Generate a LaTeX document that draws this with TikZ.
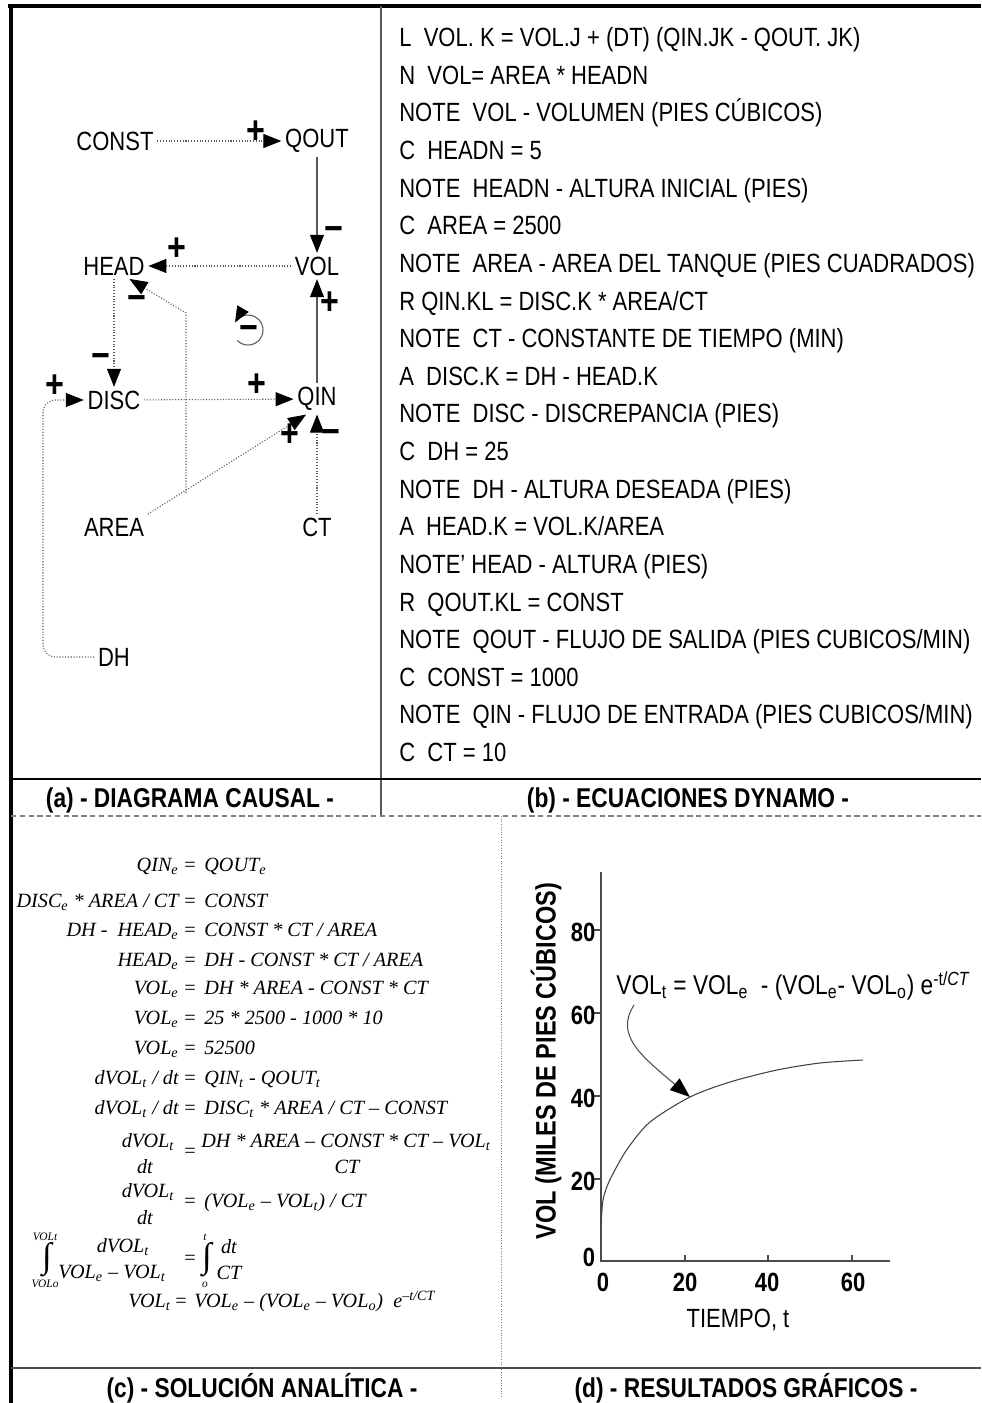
\documentclass[tikz,border=0pt]{standalone}
\usepackage{fontspec}
\setmainfont{Liberation Sans}[FakeStretch=0.835]
\newfontfamily\eqfont{Liberation Serif}
\usetikzlibrary{arrows.meta}

\begin{document}
\begin{tikzpicture}[x=0.02cm, y=-0.02cm,
  var/.style={font=\fontsize{15}{18}\selectfont, inner sep=2pt},
  plussgn/.style={font=\fontsize{22}{22}\selectfont\bfseries, inner sep=0pt},
  minussgn/.style={font=\fontsize{22}{22}\selectfont\bfseries, inner sep=0pt},
  link/.style={densely dotted, gray!70!black, line width=0.6pt, -{Triangle[length=3.6mm,width=2.8mm,color=black]}},
  flow/.style={gray!70!black, line width=0.7pt, -{Triangle[length=3.6mm,width=2.8mm,color=black]}},
  dyn/.style={font=\fontsize{15}{18}\selectfont, anchor=mid west, inner sep=0pt},
  ttl/.style={font=\fontsize{15.5}{18}\selectfont\bfseries, inner sep=0pt},
  eqn/.style={font=\eqfont\itshape\fontsize{11.5}{13}\selectfont, inner sep=0pt},
  lim/.style={font=\eqfont\itshape\fontsize{6.5}{7}\selectfont, inner sep=0pt},
  intg/.style={font=\eqfont\fontsize{20}{20}\selectfont, inner sep=0pt},
  ticklbl/.style={font=\fontsize{15}{18}\selectfont\bfseries, inner sep=0pt},
  axlbl/.style={font=\fontsize{16}{18}\selectfont\bfseries, inner sep=0pt}]
\useasboundingbox (0,0) rectangle (981,1403);

% frame and panels
\draw[line width=2.5pt] (8,6) -- (981,6);
\draw[line width=2.5pt] (11,6) -- (11,1403);
\draw[gray!70!black, line width=0.6pt] (381,6) -- (381,816);
\draw[line width=0.7pt] (11,779) -- (981,779);
\draw[gray, line width=0.6pt, densely dashed] (11,816) -- (981,816);
\draw[gray, line width=0.5pt, densely dotted] (501,816) -- (501,1398);
\draw[gray!60!black, line width=0.7pt] (11,1368) -- (981,1368);

\node[ttl] (ttla) at (190,800) {(a) - DIAGRAMA CAUSAL -};
\node[ttl] (ttlb) at (688,800) {(b) - ECUACIONES DYNAMO -};
\node[ttl] (ttlc) at (262,1388) {(c) - SOLUCIÓN ANALÍTICA -};
\node[ttl] (ttld) at (746,1388) {(d) - RESULTADOS GRÁFICOS -};

% (a) causal diagram
\node[var] (const) at (115,141) {CONST};
\node[var] (qout) at (317,141) {QOUT};
\node[var] (head) at (114,266) {HEAD};
\node[var] (vol) at (317,266) {VOL};
\node[var] (disc) at (114,400) {DISC};
\node[var] (qin) at (317,399) {QIN};
\node[var] (area) at (114,527) {AREA};
\node[var] (ct) at (317,527) {CT};
\node[var] (dh) at (114,657) {DH};
\coordinate (ajoin) at (186,493);
\coordinate (abend) at (186,313);
\coordinate (dhlow) at (43,657);
\coordinate (dhup) at (43,400);

\draw[link] (const) -- (qout);
\draw[flow] (qout) -- (vol);
\draw[link] (vol) -- (head);
\draw[flow] (qin) -- (vol);
\draw[link] (head) -- (disc);
\draw[link] (disc) -- (qin);
\draw[link] (area.north east) -- (qin.235);
\draw[link] (ct) -- (qin);
\draw[link] (ajoin) -- (abend) -- (head.-40);
\draw[link, rounded corners=7] (dh.west) -- (dhlow) -- (dhup) -- (disc.west);
\draw[gray!70!black, line width=0.6pt, -{Triangle[length=3.2mm,width=2.6mm,color=black]}]
  (248,330) ++(135:15) arc[start angle=135, end angle=-150, radius=15];

\node[plussgn] (s1) at (256,132) {+};
\node[minussgn] (s2) at (334,234) {−};
\node[plussgn] (s3) at (177,249) {+};
\node[plussgn] (s4) at (330,303) {+};
\node[minussgn] (s5) at (101,361) {−};
\node[minussgn] (s6) at (137,303) {−};
\node[plussgn] (s7) at (257,385) {+};
\node[plussgn] (s8) at (290,435) {+};
\node[minussgn] (s9) at (331,437) {−};
\node[plussgn] (s10) at (55,386) {+};
\node[minussgn] (s11) at (249,333) {−};

% (b) DYNAMO equations
\node[dyn] (b1) at (399,42) {L~ VOL. K = VOL.J + (DT) (QIN.JK - QOUT. JK)};
\node[dyn] (b2) at (399,79.6) {N~ VOL= AREA * HEADN};
\node[dyn] (b3) at (399,117.3) {NOTE~ VOL - VOLUMEN (PIES CÚBICOS)};
\node[dyn] (b4) at (399,154.9) {C~ HEADN = 5};
\node[dyn] (b5) at (399,192.5) {NOTE~ HEADN - ALTURA INICIAL (PIES)};
\node[dyn] (b6) at (399,230.2) {C~ AREA = 2500};
\node[dyn] (b7) at (399,267.8) {NOTE~ AREA - AREA DEL TANQUE (PIES CUADRADOS)};
\node[dyn] (b8) at (399,305.4) {R QIN.KL = DISC.K * AREA/CT};
\node[dyn] (b9) at (399,343.0) {NOTE~ CT - CONSTANTE DE TIEMPO (MIN)};
\node[dyn] (b10) at (399,380.7) {A~ DISC.K = DH - HEAD.K};
\node[dyn] (b11) at (399,418.3) {NOTE~ DISC - DISCREPANCIA (PIES)};
\node[dyn] (b12) at (399,455.9) {C~ DH = 25};
\node[dyn] (b13) at (399,493.6) {NOTE~ DH - ALTURA DESEADA (PIES)};
\node[dyn] (b14) at (399,531.2) {A~ HEAD.K = VOL.K/AREA};
\node[dyn] (b15) at (399,568.8) {NOTE' HEAD - ALTURA (PIES)};
\node[dyn] (b16) at (399,606.5) {R~ QOUT.KL = CONST};
\node[dyn] (b17) at (399,644.1) {NOTE~ QOUT - FLUJO DE SALIDA (PIES CUBICOS/MIN)};
\node[dyn] (b18) at (399,681.7) {C~ CONST = 1000};
\node[dyn] (b19) at (399,719.3) {NOTE~ QIN - FLUJO DE ENTRADA (PIES CUBICOS/MIN)};
\node[dyn] (b20) at (399,757.0) {C~ CT = 10};

% (c) analytic solution
\node[eqn, anchor=mid east] (c1l) at (179,867) {QIN\textsubscript{e}};
\node[eqn] (c1e) at (190,867) {=};
\node[eqn, anchor=mid west] (c1r) at (204,867) {QOUT\textsubscript{e}};
\node[eqn, anchor=mid east] (c2l) at (179,903) {DISC\textsubscript{e} * AREA / CT};
\node[eqn] (c2e) at (190,903) {=};
\node[eqn, anchor=mid west] (c2r) at (204,903) {CONST};
\node[eqn, anchor=mid east] (c3l) at (179,932) {DH -~ HEAD\textsubscript{e}};
\node[eqn] (c3e) at (190,932) {=};
\node[eqn, anchor=mid west] (c3r) at (204,932) {CONST * CT / AREA};
\node[eqn, anchor=mid east] (c4l) at (179,962) {HEAD\textsubscript{e}};
\node[eqn] (c4e) at (190,962) {=};
\node[eqn, anchor=mid west] (c4r) at (204,962) {DH - CONST * CT / AREA};
\node[eqn, anchor=mid east] (c5l) at (179,990) {VOL\textsubscript{e}};
\node[eqn] (c5e) at (190,990) {=};
\node[eqn, anchor=mid west] (c5r) at (204,990) {DH * AREA - CONST * CT};
\node[eqn, anchor=mid east] (c6l) at (179,1020) {VOL\textsubscript{e}};
\node[eqn] (c6e) at (190,1020) {=};
\node[eqn, anchor=mid west] (c6r) at (204,1020) {25 * 2500 - 1000 * 10};
\node[eqn, anchor=mid east] (c7l) at (179,1050) {VOL\textsubscript{e}};
\node[eqn] (c7e) at (190,1050) {=};
\node[eqn, anchor=mid west] (c7r) at (204,1050) {52500};
\node[eqn, anchor=mid east] (c8l) at (179,1080) {dVOL\textsubscript{t} / dt};
\node[eqn] (c8e) at (190,1080) {=};
\node[eqn, anchor=mid west] (c8r) at (204,1080) {QIN\textsubscript{t} - QOUT\textsubscript{t}};
\node[eqn, anchor=mid east] (c9l) at (179,1110) {dVOL\textsubscript{t} / dt};
\node[eqn] (c9e) at (190,1110) {=};
\node[eqn, anchor=mid west] (c9r) at (204,1110) {DISC\textsubscript{t} * AREA / CT – CONST};
\node[eqn] (f1a) at (148,1142) {dVOL\textsubscript{t}};
\node[eqn] (f1b) at (145,1167) {dt};
\node[eqn] (f1e) at (190,1153) {=};
\node[eqn] (f1c) at (346,1142) {DH * AREA – CONST * CT – VOL\textsubscript{t}};
\node[eqn] (f1d) at (347,1167) {CT};
\node[eqn] (f2a) at (148,1192) {dVOL\textsubscript{t}};
\node[eqn] (f2b) at (145,1218) {dt};
\node[eqn] (f2e) at (190,1203) {=};
\node[eqn, anchor=mid west] (f2r) at (204,1203) {(VOL\textsubscript{e} – VOL\textsubscript{t}) / CT};
\node[lim] (i1t) at (45,1237) {VOLt};
\node[intg] (i1) at (47,1260) {∫};
\node[lim] (i1b) at (45,1284) {VOLo};
\node[eqn] (i1n) at (123,1247) {dVOL\textsubscript{t}};
\node[eqn] (i1d) at (112,1273) {VOL\textsubscript{e} – VOL\textsubscript{t}};
\node[eqn] (i1e) at (190,1260) {=};
\node[lim] (i2t) at (205,1237) {t};
\node[intg] (i2) at (207,1260) {∫};
\node[lim] (i2b) at (205,1285) {o};
\node[eqn] (i2n) at (229,1247) {dt};
\node[eqn] (i2d) at (229,1273) {CT};
\node[eqn, anchor=mid east] (c14l) at (171,1303) {VOL\textsubscript{t}};
\node[eqn] (c14e) at (181,1303) {=};
\node[eqn, anchor=mid west] (c14r) at (194,1303) {VOL\textsubscript{e} – (VOL\textsubscript{e} – VOL\textsubscript{o})~ e\textsuperscript{–t/CT}};

% (d) graphical results
\draw[gray!60!black, line width=0.6pt] (601,872) -- (601,1261) -- (890,1261);
\draw[gray!60!black, line width=0.6pt] (601,1179) -- (593,1179);
\draw[gray!60!black, line width=0.6pt] (601,1096) -- (593,1096);
\draw[gray!60!black, line width=0.6pt] (601,1013) -- (593,1013);
\draw[gray!60!black, line width=0.6pt] (601,930) -- (593,930);
\draw[gray!60!black, line width=0.6pt] (685,1261) -- (685,1255);
\draw[gray!60!black, line width=0.6pt] (768,1261) -- (768,1255);
\draw[gray!60!black, line width=0.6pt] (852,1261) -- (852,1255);
\node[ticklbl] (y0) at (589,1257) {0};
\node[ticklbl] (y20) at (583,1181) {20};
\node[ticklbl] (y40) at (583,1098) {40};
\node[ticklbl] (y60) at (583,1015) {60};
\node[ticklbl] (y80) at (583,932) {80};
\node[ticklbl] (x0) at (603,1282) {0};
\node[ticklbl] (x20) at (685,1282) {20};
\node[ticklbl] (x40) at (767,1282) {40};
\node[ticklbl] (x60) at (853,1282) {60};
\node[axlbl, rotate=90] (ylbl) at (546,1061) {VOL (MILES DE PIES CÚBICOS)};
\node[var] (xlbl) at (738,1320) {TIEMPO, t};
\draw[gray!50!black, line width=0.6pt] plot[smooth] coordinates {(601,1225) (603,1200) (608,1184) (616,1168) (628,1148) (650,1122) (690,1097) (730,1082) (777,1070) (820,1063) (863,1060)};
\node[inner sep=0pt, anchor=mid west, font=\fontsize{15.5}{18}\selectfont] (eqlbl) at (616,990)
  {VOL\textsubscript{t} = VOL\textsubscript{e} ~- (VOL\textsubscript{e}- VOL\textsubscript{o}) e\textsuperscript{-t/\textit{CT}}};
\coordinate (lblfoot) at (634,1005);
\coordinate (crvpt) at (690,1097);
\draw[gray!60!black, line width=0.6pt, -{Triangle[length=4mm,width=3mm,color=black]}]
  (lblfoot) .. controls (615,1035) and (640,1055) .. (crvpt);
\end{tikzpicture}
\end{document}
